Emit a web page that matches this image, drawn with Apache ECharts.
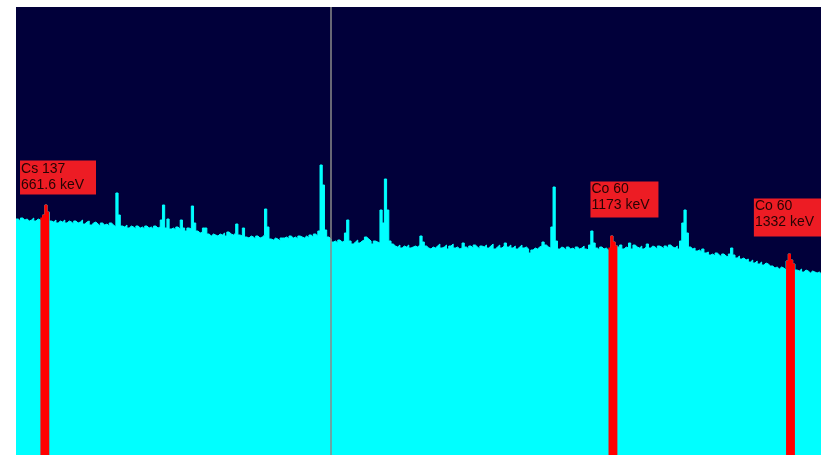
<!DOCTYPE html>
<html>
<head>
<meta charset="utf-8">
<script src="https://cdn.jsdelivr.net/npm/echarts@6/dist/echarts.min.js"></script>
<style>
html,body{margin:0;padding:0;background:#ffffff;}
#chart{width:821px;height:455px;}
</style>
</head>
<body>
<div id="chart"></div>
<script>
// Spectrum bins: left edge of bin i = binStartKeV + i * binWidthKeV
const binStartKeV = 635;
const binWidthKeV = 2;
const counts = [
  236,234,237,235,236,234,235,237,234,236, // 0
  235,237,240,250,243,234,233,235,232,234, // 10
  233,235,232,234,233,231,234,232,233,235, // 20
  231,233,234,230,232,233,231,229,232,230, // 30
  231,229,232,230,228,262,240,229,228,230, // 40
  227,229,228,226,229,227,228,226,229,227, // 50
  228,226,229,227,228,235,250,227,236,226, // 60
  227,225,228,226,235,227,224,227,226,249, // 70
  232,224,222,223,227,227,221,219,221,220, // 80
  219,221,220,222,219,223,221,220,222,231, // 90
  220,219,227,218,217,219,218,216,219,217, // 100
  218,220,246,228,216,215,217,216,214,217, // 110
  217,218,216,219,217,218,216,219,218,217, // 120
  219,217,220,218,221,219,224,290,270,225, // 130
  218,216,213,214,212,215,213,214,222,235, // 140
  214,211,213,215,212,214,215,218,216,214, // 150
  211,214,213,212,245,232,276,245,214,211, // 160
  209,208,210,207,209,208,210,207,208,209, // 170
  208,210,219,213,209,207,206,208,207,209, // 180
  211,207,208,210,206,209,211,207,208,206, // 190
  207,212,208,206,209,207,210,208,206,209, // 200
  208,210,207,209,211,206,208,210,207,209, // 210
  212,208,210,207,209,206,208,210,207,208, // 220
  206,202,205,207,206,208,209,213,210,208, // 230
  207,228,268,214,206,208,207,205,208,206, // 240
  207,205,208,206,207,209,206,205,210,224, // 250
  212,207,205,208,206,207,205,207,219,213, // 260
  209,207,210,206,208,207,212,206,210,208, // 270
  207,209,206,208,211,207,209,208,206,209, // 280
  208,206,209,207,210,208,207,209,206,214, // 290
  232,245,222,208,206,207,204,205,203,206, // 300
  202,203,200,201,199,202,200,198,201,199, // 310
  198,201,207,200,197,199,196,197,195,196, // 320
  193,195,192,194,191,193,190,192,191,189, // 330
  189,187,188,186,188,187,185,194,201,195, // 340
  191,185,184,186,183,185,184,182,184,183, // 350
  182,183,181                              // 360
];
const peakNames = ['Cs 137', 'Co 60', 'Co 60'];
const peakKeV = [661.6, 1173, 1332];
const peakRegionsKeV = [[657, 665], [1169, 1177], [1329, 1337]];
const cursorKeV = [918.4];

// label box styles (layout only)
const labelStyles = [
  {position: [-25, -44], width: 75, padding: [1, 0, 1, 1]},
  {position: [-22, -54], width: 67, padding: [0, 0, 4, 1]},
  {position: [-35, -55], width: 70, padding: [0, 0, 6, 1]}
];

const spectrum = counts.map((c, i) => [binStartKeV + i * binWidthKeV, c]);
spectrum.push([binStartKeV + counts.length * binWidthKeV, counts[counts.length - 1]]);

const series = [{
  type: 'line',
  step: 'end',
  data: spectrum,
  symbol: 'none',
  silent: true,
  lineStyle: {color: '#00ffff', width: 1},
  areaStyle: {color: '#00ffff', opacity: 1},
  z: 2,
  markLine: {
    silent: true,
    symbol: ['none', 'none'],
    label: {show: false},
    lineStyle: {color: '#8a8a8a', width: 1.5, type: 'solid'},
    data: cursorKeV.map(v => ({xAxis: v}))
  }
}];

peakRegionsKeV.forEach((r, k) => {
  const pts = [];
  counts.forEach((c, i) => {
    const e = binStartKeV + i * binWidthKeV;
    if (e >= r[0] && e < r[1]) pts.push([e, c]);
  });
  const top = Math.max(...pts.map(p => p[1]));
  pts.push([r[1], pts[pts.length - 1][1]]);
  const ls = labelStyles[k];
  series.push({
    type: 'line',
    step: 'end',
    data: pts,
    symbol: 'none',
    silent: true,
    lineStyle: {color: '#ff0000', width: 1},
    areaStyle: {color: '#ff0000', opacity: 1},
    z: 4,
    markPoint: {
      silent: true,
      symbol: 'rect',
      symbolSize: 1,
      itemStyle: {color: 'rgba(0,0,0,0)'},
      data: [{
        coord: [peakKeV[k], top],
        label: {
          show: true,
          position: ls.position,
          align: 'left',
          verticalAlign: 'top',
          formatter: peakNames[k] + '\n' + peakKeV[k] + ' keV',
          fontFamily: 'Liberation Sans, Arial, sans-serif',
          fontSize: 14,
          lineHeight: 16,
          color: '#260404',
          backgroundColor: '#ed1c24',
          width: ls.width,
          padding: ls.padding
        }
      }]
    }
  });
});

const chart = echarts.init(document.getElementById('chart'), null, {renderer: 'canvas'});
chart.setOption({
  animation: false,
  backgroundColor: '#ffffff',
  grid: {left: 16, right: 0, top: 7, bottom: 0, show: true, backgroundColor: '#01003a', borderWidth: 0},
  xAxis: {type: 'value', min: 635, max: 1360.5, show: false},
  yAxis: {type: 'value', min: 0, max: 448, show: false},
  series: series
});
</script>
</body>
</html>
